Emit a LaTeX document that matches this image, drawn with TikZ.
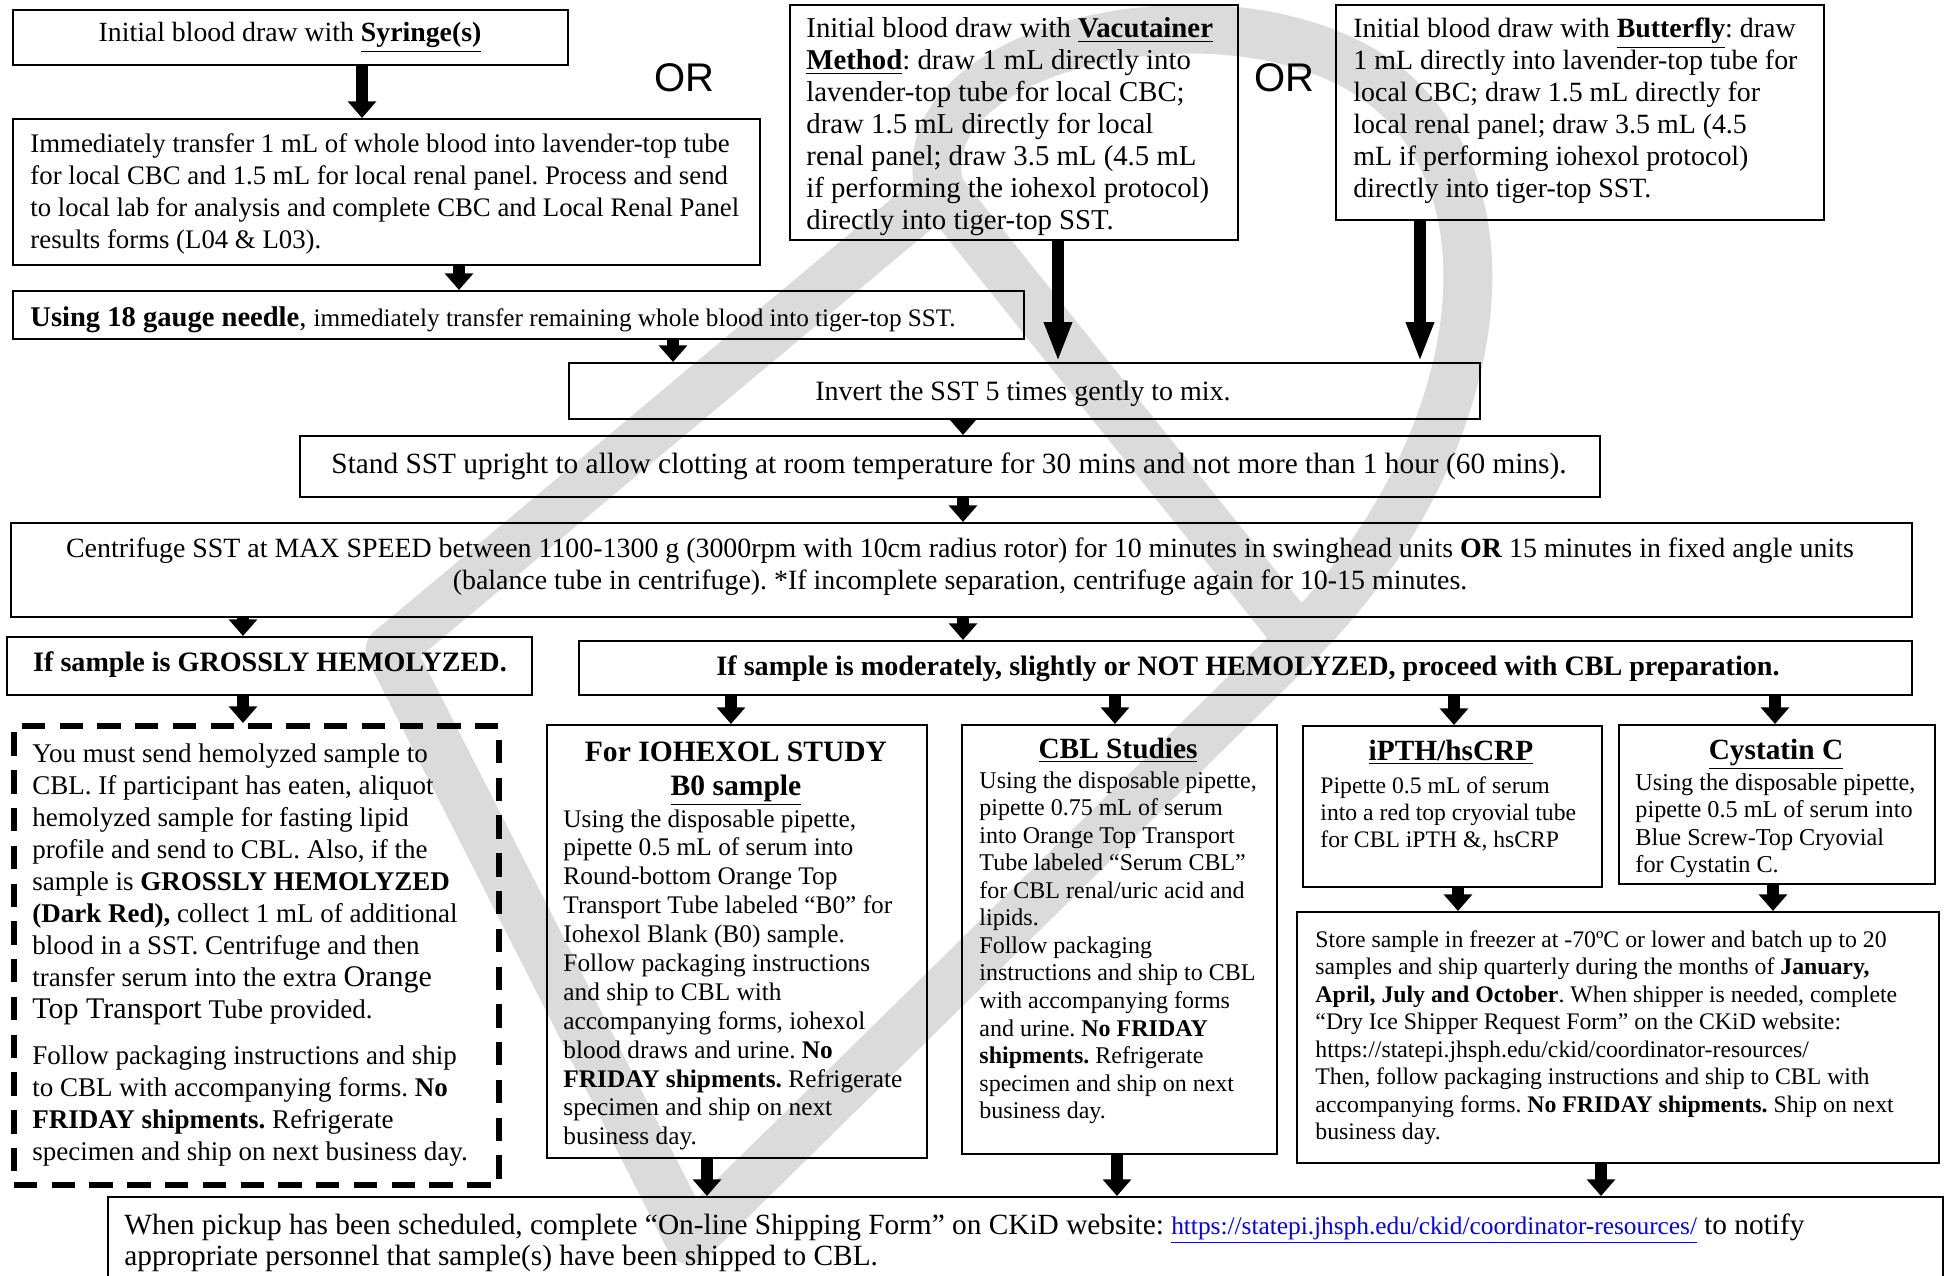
\documentclass[tikz,border=0pt]{standalone}
\usepackage{fontspec}
\setmainfont{Liberation Serif}
\newfontfamily\orfont{Liberation Sans}
\usetikzlibrary{arrows.meta}
\frenchspacing

\newcommand{\pxu}{0.45pt}
\newcommand{\fsz}[2]{\fontsize{#1}{#2}\selectfont}

\begin{document}
\begin{tikzpicture}[x=0.45pt, y=-0.45pt,
    box/.style={draw, line width=0.9pt, inner sep=0pt, anchor=north west},
    sz/.style 2 args={minimum width=#1*\pxu, minimum height=#2*\pxu},
    dashbox/.style={draw, line width=2.6pt, dash pattern=on 10.5pt off 6.5pt, inner sep=0pt, anchor=north west},
    plainsp/.style={execute at begin node={\spaceskip=0pt\xspaceskip=0pt}},
    txt/.style={anchor=base west, align=flush left, inner sep=0pt, text width=900*\pxu, plainsp},
    ctxt/.style={anchor=base, align=center, inner sep=0pt, plainsp},
    ctxtw/.style={anchor=base, align=flush center, inner sep=0pt, text width=#1*\pxu, plainsp},
    blk/.style={line width=5pt, -{Triangle[width=12.5pt, length=7.5pt]}},
    blklong/.style={line width=5.4pt, -{Triangle[width=11.5pt, length=18pt]}},
    wm/.style={draw=black!14, line width=22pt, line cap=round, line join=round},
    ortxt/.style={font=\orfont\fsz{18}{20}, inner sep=0pt, anchor=base}]

    \useasboundingbox (0,0) rectangle (1944,1276);
    \clip (0,0) rectangle (1944,1276);

    % watermark
    \draw[wm] (940,190) -- (390,650) -- (690,1240) -- (1300,640) -- cycle;
    \draw[wm] (940,190) .. controls (900,40) and (1250,-30) .. (1390,90)
        .. controls (1530,210) and (1470,470) .. (1300,640);

    % ================= blood draw =================
    \node[box, sz={555}{55}] (syr) at (12,9) {};
    \node[ctxt, font=\fsz{12.5}{14.4}] (syrtxt) at (290,42) {Initial blood draw with \underline{\textbf{Syringe(s)}}};

    \node[box, sz={747}{146}] (imm) at (12,118) {};
    \node[txt, font=\fsz{12.05}{14.4}] (immtxt) at (30,153) {Immediately transfer 1 mL of whole blood into lavender-top tube\\
        for local CBC and 1.5 mL for local renal panel. Process and send\\
        to local lab for analysis and complete CBC and Local Renal Panel\\
        results forms (L04 \& L03).};

    \node[box, sz={1011}{48}] (ndl) at (12,290) {};
    \node[txt, font=\fsz{12.85}{14.4}, text width=1800*\pxu] (ndltxt) at (30,326) {\textbf{Using 18 gauge needle}, {\fsz{11.35}{13}immediately transfer remaining whole blood into tiger-top SST.}};

    \node[ortxt] (or1) at (684,92) {OR};
    \node[ortxt] (or2) at (1284,92) {OR};

    \node[box, sz={448}{235}] (vac) at (789,4) {};
    \node[txt, font=\fsz{12.95}{14.4}] (vactxt) at (806,38) {Initial blood draw with \underline{\textbf{Vacutainer}}\\
        \underline{\textbf{Method}}: draw 1 mL directly into\\
        lavender-top tube for local CBC;\\
        draw 1.5 mL directly for local\\
        renal panel; draw 3.5 mL (4.5 mL\\
        if performing the iohexol protocol)\\
        directly into tiger-top SST.};

    \node[box, sz={488}{215}] (but) at (1335,4) {};
    \node[txt, font=\fsz{12.55}{14.4}] (buttxt) at (1353,38) {Initial blood draw with \underline{\textbf{Butterfly}}: draw\\
        1 mL directly into lavender-top tube for\\
        local CBC; draw 1.5 mL directly for\\
        local renal panel; draw 3.5 mL (4.5\\
        mL if performing iohexol protocol)\\
        directly into tiger-top SST.};

    % ================= SST =================
    \node[box, sz={911}{56}] (inv) at (568,362) {};
    \node[ctxt, font=\fsz{12.6}{14.4}] (invtxt) at (1023,400) {Invert the SST 5 times gently to mix.};

    \node[box, sz={1300}{61}] (std) at (299,435) {};
    \node[ctxt, font=\fsz{13.2}{14.4}] (stdtxt) at (949,473) {Stand SST upright to allow clotting at room temperature for 30 mins and not more than 1 hour (60 mins).};

    \node[box, sz={1901}{94}] (cen) at (10,522) {};
    \node[ctxtw=1880, font=\fsz{12.55}{14.4}] (centxt) at (960,557) {Centrifuge SST at MAX SPEED between 1100-1300 g (3000rpm with 10cm radius rotor) for 10 minutes in swinghead units \textbf{OR} 15 minutes in fixed angle units\\
        (balance tube in centrifuge). *If incomplete separation, centrifuge again for 10-15 minutes.};

    \node[box, sz={525}{58}] (gro) at (6,636) {};
    \node[ctxt, font=\fsz{12.65}{14.4}] (grotxt) at (270,671) {\textbf{If sample is GROSSLY HEMOLYZED.}};

    \node[box, sz={1333}{54}] (mod) at (578,640) {};
    \node[ctxt, font=\fsz{12.65}{14.4}] (modtxt) at (1248,675) {\textbf{If sample is moderately, slightly or NOT HEMOLYZED, proceed with CBL preparation.}};

    % ================= hemolyzed =================
    \node[dashbox, sz={485}{459}] (dsh) at (11,723) {};
    \node[txt, font=\fsz{12.15}{14.4}] (dshtxt) at (32,762) {You must send hemolyzed sample to\\
        CBL. If participant has eaten, aliquot\\
        hemolyzed sample for fasting lipid\\
        profile and send to CBL. Also, if the\\
        sample is \textbf{GROSSLY HEMOLYZED}\\
        \textbf{(Dark Red),} collect 1 mL of additional\\
        blood in a SST. Centrifuge and then\\
        transfer serum into the extra {\fsz{13.5}{14.4}Orange}\\
        {\fsz{13.5}{14.4}Top Transport} Tube provided.\par\vspace{6.3pt}
        Follow packaging instructions and ship\\
        to CBL with accompanying forms. \textbf{No}\\
        \textbf{FRIDAY shipments.} Refrigerate\\
        specimen and ship on next business day.};

    % ================= CBL preparation =================
    \node[box, sz={380}{433}] (ioh) at (546,724) {};
    \node[ctxtw=370, font=\fsz{13.3}{15.3}\bfseries] (iohhead) at (736,761) {For IOHEXOL STUDY\\ \underline{B0 sample}};
    \node[txt, font=\fsz{11.4}{13}] (iohtxt) at (563,827) {Using the disposable pipette,\\
        pipette 0.5 mL of serum into\\
        Round-bottom Orange Top\\
        Transport Tube labeled “B0” for\\
        Iohexol Blank (B0) sample.\\
        Follow packaging instructions\\
        and ship to CBL with\\
        accompanying forms, iohexol\\
        blood draws and urine. \textbf{No}\\
        \textbf{FRIDAY shipments.} Refrigerate\\
        specimen and ship on next\\
        business day.};

    \node[box, sz={315}{429}] (cbl) at (961,724) {};
    \node[ctxt, font=\fsz{13.2}{15.3}\bfseries] (cblhead) at (1118,758) {\underline{CBL Studies}};
    \node[txt, font=\fsz{10.8}{12.4}] (cbltxt) at (979,788) {Using the disposable pipette,\\
        pipette 0.75 mL of serum\\
        into Orange Top Transport\\
        Tube labeled “Serum CBL”\\
        for CBL renal/uric acid and\\
        lipids.\\
        Follow packaging\\
        instructions and ship to CBL\\
        with accompanying forms\\
        and urine. \textbf{No FRIDAY}\\
        \textbf{shipments.} Refrigerate\\
        specimen and ship on next\\
        business day.};

    \node[box, sz={299}{161}] (ipt) at (1302,725) {};
    \node[ctxt, font=\fsz{13.2}{15.3}\bfseries] (ipthead) at (1451,760) {\underline{iPTH/hsCRP}};
    \node[txt, font=\fsz{10.65}{12.2}] (ipttxt) at (1320,793) {Pipette 0.5 mL of serum\\
        into a red top cryovial tube\\
        for CBL iPTH \&, hsCRP};

    \node[box, sz={316}{159}] (cys) at (1618,724) {};
    \node[ctxt, font=\fsz{13.2}{15.3}\bfseries] (cyshead) at (1776,759) {\underline{Cystatin C}};
    \node[txt, font=\fsz{10.9}{12.4}] (cystxt) at (1635,790) {Using the disposable pipette,\\
        pipette 0.5 mL of serum into\\
        Blue Screw-Top Cryovial\\
        for Cystatin C.};

    \node[box, sz={642}{251}] (sto) at (1296,911) {};
    \node[txt, font=\fsz{10.7}{12.4}] (stotxt) at (1315,947) {Store sample in freezer at -70ºC or lower and batch up to 20\\
        samples and ship quarterly during the months of \textbf{January,}\\
        \textbf{April, July and October}. When shipper is needed, complete\\
        “Dry Ice Shipper Request Form” on the CKiD website:\\
        https://statepi.jhsph.edu/ckid/coordinator-resources/\\
        Then, follow packaging instructions and ship to CBL with\\
        accompanying forms. \textbf{No FRIDAY shipments.} Ship on next\\
        business day.};

    % ================= shipping =================
    \node[box, sz={1835}{120}] (bot) at (107,1196) {};
    \node[txt, font=\fsz{13.2}{14}, text width=1800*\pxu] (bottxt) at (124,1234) {When pickup has been scheduled, complete “On-line Shipping Form” on CKiD website: {\fsz{11.4}{14}\textcolor{blue}{\underline{https://statepi.jhsph.edu/ckid/coordinator-resources/}}} to notify\\
        appropriate personnel that sample(s) have been shipped to CBL.};

    % ================= arrows =================
    \draw[blk] (syr.south -| 362,0) -- (imm.north -| 362,0);
    \draw[blk] (imm.south -| 459,0) -- (ndl.north -| 459,0);
    \draw[blk] (ndl.south -| 673,0) -- (inv.north -| 673,0);
    \draw[blklong] (vac.south -| 1058,0) -- (inv.north -| 1058,0);
    \draw[blklong] (but.south -| 1420,0) -- (inv.north -| 1420,0);
    \draw[blk] (inv.south -| 963,0) -- (std.north -| 963,0);
    \draw[blk] (std.south -| 963,0) -- (cen.north -| 963,0);
    \draw[blk] (cen.south -| 243,0) -- (gro.north -| 243,0);
    \draw[blk] (cen.south -| 963,0) -- (mod.north -| 963,0);
    \draw[blk] (gro.south -| 243,0) -- (dsh.north -| 243,0);
    \draw[blk] (mod.south -| 731,0) -- (ioh.north -| 731,0);
    \draw[blk] (mod.south -| 1115,0) -- (cbl.north -| 1115,0);
    \draw[blk] (mod.south -| 1454,0) -- (ipt.north -| 1454,0);
    \draw[blk] (mod.south -| 1775,0) -- (cys.north -| 1775,0);
    \draw[blk] (ipt.south -| 1458,0) -- (sto.north -| 1458,0);
    \draw[blk] (cys.south -| 1773,0) -- (sto.north -| 1773,0);
    \draw[blk] (ioh.south -| 707,0) -- (bot.north -| 707,0);
    \draw[blk] (cbl.south -| 1117,0) -- (bot.north -| 1117,0);
    \draw[blk] (sto.south -| 1601,0) -- (bot.north -| 1601,0);

\end{tikzpicture}
\end{document}
